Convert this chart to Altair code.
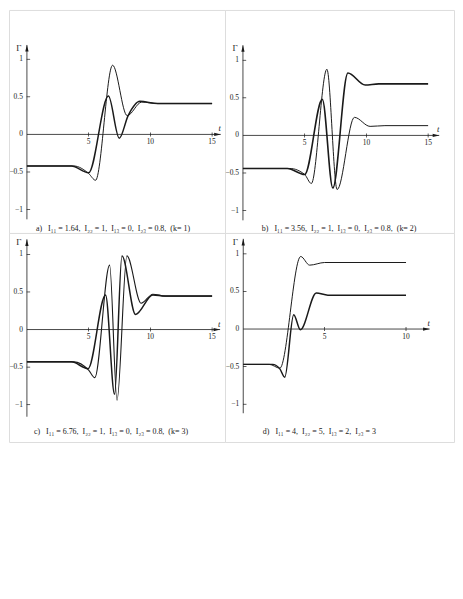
import altair as alt
import pandas as pd

FONT = "Liberation Serif"
INK = "#1a1a1a"
NB = "\u00a0"

# ---------------- data ----------------
# panel a
a1_t = [0, 3.6, 5.0, 6.6, 7.48, 8.2, 9.15, 10.6, 15]
a1_v = [-0.42, -0.42, -0.51, 0.51, -0.05, 0.25, 0.44, 0.41, 0.41]
a2_t = [0, 3.8, 5.0, 5.56, 6.94, 8.12, 9.3, 10.6, 15]
a2_v = [-0.42, -0.42, -0.52, -0.61, 0.92, 0.25, 0.43, 0.41, 0.41]
# panel b
b1_t = [0, 3.6, 5.0, 6.43, 7.28, 8.5, 9.9, 11.0, 15]
b1_v = [-0.44, -0.44, -0.52, 0.48, -0.70, 0.83, 0.67, 0.685, 0.685]
b2_t = [0, 3.8, 5.0, 5.54, 6.8, 7.63, 9.03, 10.3, 11.5, 15]
b2_v = [-0.44, -0.44, -0.52, -0.64, 0.88, -0.72, 0.24, 0.12, 0.13, 0.13]
# panel c
c1_t = [0, 3.6, 4.95, 6.37, 7.1, 7.7, 8.8, 10.2, 11.2, 15]
c1_v = [-0.43, -0.43, -0.52, 0.46, -0.86, 0.98, 0.20, 0.46, 0.445, 0.445]
c2_t = [0, 3.8, 5.0, 5.5, 6.7, 7.3, 8.1, 9.25, 10.2, 11.2, 15]
c2_v = [-0.43, -0.43, -0.54, -0.64, 0.857, -0.94, 0.98, 0.35, 0.47, 0.445, 0.445]
# panel d
d1_t = [0, 1.6, 2.25, 3.53, 4.08, 5.0, 10]
d1_v = [-0.47, -0.47, -0.52, 0.965, 0.85, 0.885, 0.885]
d2_t = [0, 1.8, 2.25, 2.55, 3.1, 3.51, 4.49, 5.2, 10]
d2_v = [-0.47, -0.47, -0.53, -0.64, 0.19, -0.01, 0.48, 0.45, 0.45]

x_ticks_long = [5, 10, 15]
x_labels_long = ["5", "10", "15"]
x_ticks_short = [5, 10]
x_labels_short = ["5", "10"]
y_ticks = [1, 0.5, -0.5, -1]
y_label_vals = [1, 0.5, 0, -0.5, -1]
y_labels = ["1", "0.5", "0", "\u22120.5", "\u22121"]

cap_a = f"a){NB}{NB}{NB}I₁₁ = 1.64,{NB} I₂₂ = 1,{NB} I₁₃ = 0,{NB} I₂₃ = 0.8,{NB} (k= 1)"
cap_b = f"b){NB}{NB}{NB}I₁₁ = 3.56,{NB} I₂₂ = 1,{NB} I₁₃ = 0,{NB} I₂₃ = 0.8,{NB} (k= 2)"
cap_c = f"c){NB}{NB}{NB}I₁₁ = 6.76,{NB} I₂₂ = 1,{NB} I₁₃ = 0,{NB} I₂₃ = 0.8,{NB} (k= 3)"
cap_d = f"d){NB}{NB}{NB}I₁₁ = 4,{NB} I₂₂ = 5,{NB} I₁₃ = 2,{NB} I₂₃ = 3"


def panel(curves, x_dom, y_dom, W, H, xt, xl, x_tip, y_bot, y_tip, caption, cap_x, cap_y):
    def X(f):
        return alt.X(f, type="quantitative", axis=None,
                     scale=alt.Scale(domain=x_dom, nice=False, zero=False))

    def Y(f):
        return alt.Y(f, type="quantitative", axis=None,
                     scale=alt.Scale(domain=y_dom, nice=False, zero=False))

    layers = []
    for (tt, vv, w) in curves:
        df = pd.DataFrame({"t": tt, "v": vv})
        layers.append(alt.Chart(df).mark_line(interpolate="monotone", color=INK,
                                              strokeWidth=w).encode(x=X("t"), y=Y("v")))
    # axes lines
    layers.append(alt.Chart(pd.DataFrame({"t": [0], "t2": [x_tip], "v": [0]}))
                  .mark_rule(color=INK, strokeWidth=0.8)
                  .encode(x=X("t"), x2="t2", y=Y("v")))
    layers.append(alt.Chart(pd.DataFrame({"t": [0], "v": [y_bot], "v2": [y_tip]}))
                  .mark_rule(color=INK, strokeWidth=0.8)
                  .encode(x=X("t"), y=Y("v"), y2="v2"))
    # ticks
    xdf = pd.DataFrame({"t": xt, "v": [0] * len(xt), "lab": xl})
    layers.append(alt.Chart(xdf).mark_tick(orient="vertical", size=4, thickness=0.7,
                                           color=INK, opacity=1)
                  .encode(x=X("t"), y=Y("v")))
    layers.append(alt.Chart(xdf).mark_text(dy=8, align="center", baseline="middle",
                                           fontSize=7.5, color=INK)
                  .encode(x=X("t"), y=Y("v"), text="lab"))
    ytdf = pd.DataFrame({"t": [0] * len(y_ticks), "v": y_ticks})
    layers.append(alt.Chart(ytdf).mark_tick(orient="horizontal", size=3.5, thickness=0.7,
                                            xOffset=1.5, color=INK, opacity=1)
                  .encode(x=X("t"), y=Y("v")))
    yldf = pd.DataFrame({"t": [0] * len(y_label_vals), "v": y_label_vals, "lab": y_labels})
    layers.append(alt.Chart(yldf).mark_text(dx=-4, align="right", baseline="middle",
                                            fontSize=7.5, color=INK)
                  .encode(x=X("t"), y=Y("v"), text="lab"))
    # arrow heads
    layers.append(alt.Chart(pd.DataFrame({"t": [0], "v": [y_tip]}))
                  .mark_point(shape="M0,0L0.55,2.2L-0.55,2.2Z", size=36, filled=True,
                              color=INK, opacity=1, strokeWidth=0)
                  .encode(x=X("t"), y=Y("v")))
    layers.append(alt.Chart(pd.DataFrame({"t": [x_tip], "v": [0]}))
                  .mark_point(shape="M0,0L-2.2,0.55L-2.2,-0.55Z", size=36, filled=True,
                              color=INK, opacity=1, strokeWidth=0)
                  .encode(x=X("t"), y=Y("v")))
    # axis names
    layers.append(alt.Chart(pd.DataFrame({"t": [0], "v": [y_tip], "lab": ["Γ"]}))
                  .mark_text(dx=-8, dy=3, align="center", baseline="middle",
                             fontSize=9, color=INK)
                  .encode(x=X("t"), y=Y("v"), text="lab"))
    layers.append(alt.Chart(pd.DataFrame({"t": [x_tip], "v": [0], "lab": ["t"]}))
                  .mark_text(dx=-1, dy=-6, align="center", baseline="middle",
                             fontSize=8.5, fontStyle="italic", color=INK)
                  .encode(x=X("t"), y=Y("v"), text="lab"))
    # caption
    layers.append(alt.Chart(pd.DataFrame({"c": [caption]}))
                  .mark_text(align="left", baseline="middle", fontSize=8, color=INK)
                  .encode(x=alt.value(cap_x), y=alt.value(cap_y), text="c"))
    return alt.layer(*layers).properties(width=W, height=H)


pa = panel([(a1_t, a1_v, 1.5), (a2_t, a2_v, 1.0)],
           [-1.4516, 16.048], [-1.3113, 1.6556], 217, 224,
           x_ticks_long, x_labels_long, 15.7, -1.13, 1.19, cap_a, 27, 220)
pb = panel([(b1_t, b1_v, 1.6), (b2_t, b2_v, 1.0)],
           [-1.4516, 17.097], [-1.298, 1.6689], 230, 224,
           x_ticks_long, x_labels_long, 15.9, -1.13, 1.2, cap_b, 37, 220)
pc = panel([(c1_t, c1_v, 1.5), (c2_t, c2_v, 1.1)],
           [-1.4516, 16.048], [-1.4967, 1.2848], 217, 210,
           x_ticks_long, x_labels_long, 15.65, -1.16, 1.2, cap_c, 25, 200)
pd_ = panel([(d1_t, d1_v, 1.0), (d2_t, d2_v, 1.5)],
            [-1.119, 12.948], [-1.503, 1.278], 230, 210,
            x_ticks_short, x_labels_short, 11.45, -1.12, 1.2, cap_d, 38, 200)

chart = (alt.concat(pa, pb, pc, pd_, columns=2, spacing=0, bounds="flush")
         .properties(padding=0)
         .configure_view(strokeWidth=0, strokeOpacity=0)
         .configure(font=FONT)
         .configure_text(font=FONT))

chart.save("out.html", embed_options={"renderer": "svg", "actions": False})
